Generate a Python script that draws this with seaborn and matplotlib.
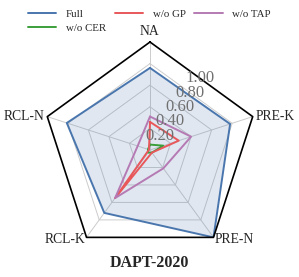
import numpy as np
import pandas as pd
import matplotlib
matplotlib.use("Agg")
import matplotlib.pyplot as plt
import seaborn as sns

categories = ["NA", "PRE-K", "PRE-N", "RCL-K", "RCL-N"]
models = ["Full", "w/o CER", "w/o GP", "w/o TAP"]
full = [0.76, 0.78, 1.00, 0.72, 0.81]
wo_cer = [0.05, 0.13, 0.03, 0.03, 0.02]
wo_gp = [0.26, 0.28, 0.03, 0.55, 0.01]
wo_tap = [0.31, 0.40, 0.21, 0.55, 0.12]
rticks = [0.2, 0.4, 0.6, 0.8, 1.0]
title = "DAPT-2020"

palette = {"Full": "#4a76ae", "w/o CER": "#3a9f3a", "w/o GP": "#e8575a", "w/o TAP": "#b57ab3"}

sns.set_style("white")
plt.rcParams['font.family'] = ['Liberation Serif', 'DejaVu Serif']
plt.rcParams['legend.fontsize'] = 7.8

n = len(categories)
angles = np.linspace(0, 2 * np.pi, n, endpoint=False)
theta = np.append(angles, 2 * np.pi)

# long table, polygon closed by repeating the first point
rows = []
for name, vals in zip(models, [full, wo_cer, wo_gp, wo_tap]):
    vv = list(vals) + [vals[0]]
    for t, v in zip(theta, vv):
        rows.append({"theta": t, "value": v, "model": name})
df = pd.DataFrame(rows)

fig = plt.figure(figsize=(2.99, 2.77), dpi=100)
ax = fig.add_axes([42 / 299, 19 / 277, 216 / 299, 216 / 277], projection="polar")
ax.set_theta_offset(np.pi / 2)
ax.set_theta_direction(-1)
ax.set_ylim(0, 1)
ax.grid(False)
ax.spines['polar'].set_visible(False)
ax.set_facecolor("none")
ax.set_xticks([])
ax.set_yticks([])

# polygon grid + frame
for r in rticks[:-1]:
    ax.plot(theta, [r] * len(theta), color="#cccccc", lw=0.7, zorder=1)
ax.plot(theta, [1.0] * len(theta), color="black", lw=1.2, zorder=4, clip_on=False)
for a in angles:
    ax.plot([a, a], [0, 1], color="#cccccc", lw=0.7, zorder=1)

ax.fill(theta, list(full) + [full[0]], color=palette["Full"], alpha=0.17, lw=0, zorder=2)

sns.lineplot(data=df, x="theta", y="value", hue="model", hue_order=models,
             palette=palette, sort=False, estimator=None, lw=1.4, ax=ax, zorder=3)
ax.set_xlabel("")
ax.set_ylabel("")

# radial labels sitting on the grid polygons between NA and PRE-K
lab_ang = np.deg2rad(35)
for r in rticks:
    ax.text(lab_ang, r * np.cos(np.pi / n), f"{r:.2f}", ha="center", va="center",
            fontsize=12, color="#707070", zorder=5)

# category labels
offs = [(0, 3, "center", "bottom"), (2, 0, "left", "center"), (1, -1.5, "left", "center"),
        (-1, -1.5, "right", "center"), (-2, 0, "right", "center")]
for a, lab, (dx, dy, ha, va) in zip(angles, categories, offs):
    ax.annotate(lab, xy=(a, 1.0), xytext=(dx, dy), textcoords="offset points",
                ha=ha, va=va, fontsize=9.8, annotation_clip=False)

sns.move_legend(ax, "upper center", bbox_to_anchor=(0.5, 0.99), bbox_transform=fig.transFigure,
                ncol=3, frameon=False, title=None, handlelength=2.6,
                handletextpad=0.9, columnspacing=0.8, borderaxespad=0.2, labelspacing=0.4)

fig.text(0.5, 14 / 277, title, ha="center", va="center", fontsize=11.5, fontweight="bold")

fig.savefig("out.png", dpi=100)
